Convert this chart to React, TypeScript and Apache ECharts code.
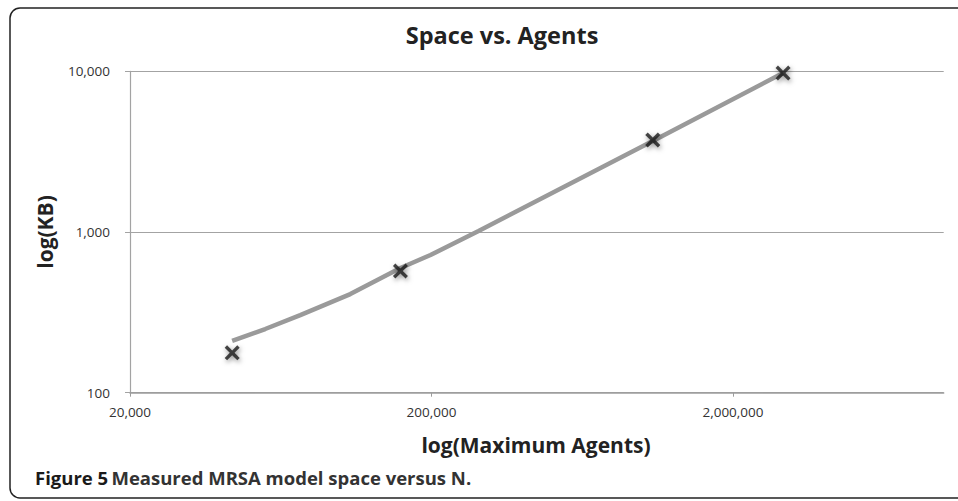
import React, { useEffect, useRef } from "react";
import * as echarts from "echarts";

// Measured points (Maximum Agents, KB)
const agents = [43650, 157800, 1084000, 2932000];
const spaceKB = [177, 572, 3737, 9750];

// Trend line
const trendAgents = [43640, 56170, 73420, 107600, 157800, 198500, 286600, 1084000, 2932000];
const trendKB = [210, 249, 304, 411, 597, 719, 1014, 3684, 9759];

// Axis tick labels
const xTickValues = [20000, 200000, 2000000];
const xMin = 20000;
const xMax = 10000000;
const yTickValues = [100, 1000, 10000];

const FONT = "'Open Sans', 'DejaVu Sans', sans-serif";

export default function App() {
  const ref = useRef<HTMLDivElement>(null);

  useEffect(() => {
    if (!ref.current) return;
    const chart = echarts.init(ref.current, null, { renderer: "svg" });
    const lg = (v: number) => Math.log10(v);
    const xTicks = xTickValues.map(lg);

    const option: any = {
      animation: false,
      backgroundColor: "#ffffff",
      grid: { left: 130, right: 14.3, top: 71.3, bottom: 108.3, containLabel: false },
      xAxis: {
        type: "value",
        min: lg(xMin),
        max: lg(xMax),
        splitLine: { show: false },
        axisLine: { show: true, lineStyle: { color: "#9c9c9c", width: 1.5 } },
        axisTick: { show: true, customValues: xTicks, length: 4, lineStyle: { color: "#9c9c9c" } },
        axisLabel: {
          customValues: xTicks,
          margin: 12,
          fontFamily: FONT,
          fontSize: 13.5,
          color: "#333333",
          formatter: (v: number) => Math.round(Math.pow(10, v)).toLocaleString("en-US"),
        },
      },
      yAxis: {
        type: "log",
        logBase: 10,
        min: yTickValues[0],
        max: yTickValues[yTickValues.length - 1],
        interval: 1,
        splitLine: { show: true, lineStyle: { color: "#a3a3a3", width: 1.2 } },
        axisLine: { show: true, lineStyle: { color: "#a3a3a3", width: 1.2 } },
        axisTick: { show: true, length: 5, lineStyle: { color: "#a3a3a3" } },
        axisLabel: {
          margin: 20,
          fontFamily: FONT,
          fontSize: 13.5,
          color: "#333333",
          formatter: (v: number) => Math.round(v).toLocaleString("en-US"),
        },
      },
      series: [
        {
          type: "line",
          data: trendAgents.map((a, i) => [lg(a), trendKB[i]]),
          showSymbol: false,
          lineStyle: { color: "#9a9a9a", width: 4.5 },
          z: 2,
        },
        {
          type: "scatter",
          data: agents.map((a, i) => [lg(a), spaceKB[i]]),
          symbol:
            "path://M0,1.6 L1.6,0 L5,3.4 L8.4,0 L10,1.6 L6.6,5 L10,8.4 L8.4,10 L5,6.6 L1.6,10 L0,8.4 L3.4,5 Z",
          symbolSize: 15,
          itemStyle: {
            color: "#1a1a1a",
            shadowBlur: 5,
            shadowColor: "rgba(0,0,0,0.55)",
            shadowOffsetX: 1,
            shadowOffsetY: 2,
          },
          z: 3,
        },
      ],
      graphic: [
        {
          type: "rect",
          shape: { x: 10, y: 8, width: 980, height: 490, r: 10 },
          style: { fill: "none", stroke: "#222222", lineWidth: 1.5 },
          silent: true,
        },
        {
          type: "text",
          x: 502,
          y: 35,
          style: {
            text: "Space vs. Agents",
            fontFamily: FONT,
            fontWeight: "bold",
            fontSize: 23.5,
            fill: "#222222",
            align: "center",
            verticalAlign: "middle",
          },
        },
        {
          type: "text",
          x: 45,
          y: 232,
          rotation: Math.PI / 2,
          style: {
            text: "log(KB)",
            fontFamily: FONT,
            fontWeight: "bold",
            fontSize: 21,
            fill: "#222222",
            align: "center",
            verticalAlign: "middle",
          },
        },
        {
          type: "text",
          x: 536,
          y: 445,
          style: {
            text: "log(Maximum Agents)",
            fontFamily: FONT,
            fontWeight: "bold",
            fontSize: 21,
            fill: "#222222",
            align: "center",
            verticalAlign: "middle",
          },
        },
        {
          type: "text",
          x: 35,
          y: 477,
          style: {
            text: "{a|Figure 5} {b|Measured MRSA model space versus N.}",
            verticalAlign: "middle",
            rich: {
              a: { fontFamily: FONT, fontWeight: "bold", fontSize: 18.5, fill: "#1a1a1a", color: "#1a1a1a" },
              b: { fontFamily: FONT, fontWeight: "bold", fontSize: 18.5, fill: "#333333", color: "#333333" },
            },
          },
        },
      ],
    };

    chart.setOption(option);
    return () => chart.dispose();
  }, []);

  return (
    <div
      ref={ref}
      style={{ position: "fixed", left: 0, top: 0, width: 958, height: 501, background: "#fff" }}
    />
  );
}
